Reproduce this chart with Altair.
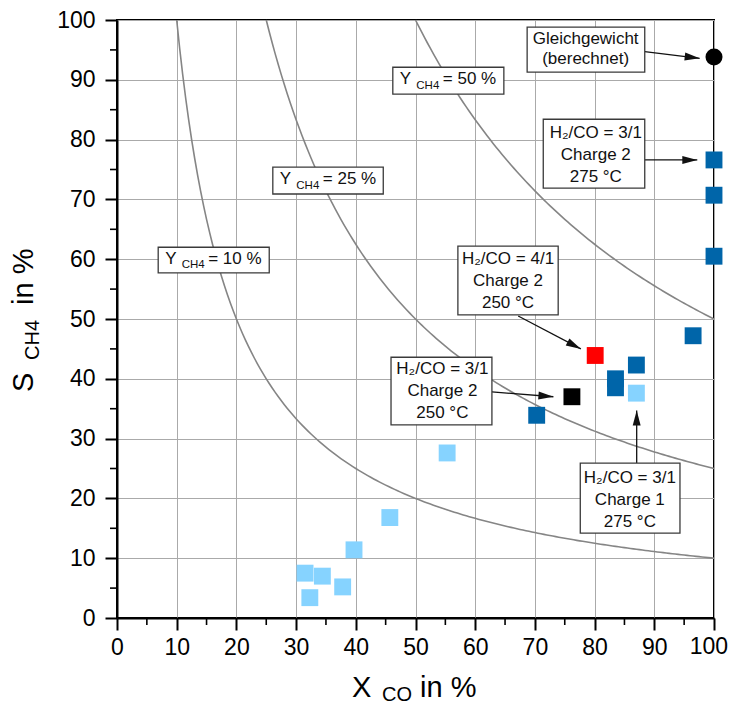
import math
import altair as alt
import pandas as pd

# ---------------- data ----------------
charge1_275_x = [31.5, 32.3, 34.4, 37.8, 39.7, 45.7, 55.3, 87.0]
charge1_275_y = [7.5, 3.4, 7.0, 5.2, 11.4, 16.8, 27.6, 37.6]
charge2_275_x = [70.3, 83.5, 83.5, 87.0, 96.5, 100.0, 100.0, 100.0]
charge2_275_y = [33.9, 40.0, 38.5, 42.3, 47.2, 76.6, 70.7, 60.5]
charge2_250_31_x = [76.2]
charge2_250_31_y = [37.0]
charge2_250_41_x = [80.1]
charge2_250_41_y = [43.9]
equilibrium_x = [100.0]
equilibrium_y = [93.8]

yield_levels = [10, 25, 50]          # Y_CH4 = X_CO * S_CH4 / 100
axis_values = list(range(0, 101, 10))
minor_values = list(range(5, 100, 10))
last_x_label = [100]

# annotation boxes (data units)
box_x1 = [68.7, 46.2, 71.4, 26.1, 6.9, 57.1, 45.9, 77.6]
box_x2 = [88.4, 64.8, 88.4, 44.6, 25.5, 73.9, 62.8, 94.3]
box_y1 = [91.3, 87.6, 71.9, 70.9, 57.7, 50.7, 32.3, 14.2]
box_y2 = [98.8, 92.1, 83.4, 75.4, 62.0, 62.2, 43.6, 25.9]

note2_text = ["Gleichgewicht\n(berechnet)"]
note2_x = [78.5]
note2_y = [95.1]
note3_text = ["H\u2082/CO = 3/1\nCharge 2\n275 \u00b0C",
              "H\u2082/CO = 4/1\nCharge 2\n250 \u00b0C",
              "H\u2082/CO = 3/1\nCharge 2\n250 \u00b0C",
              "H\u2082/CO = 3/1\nCharge 1\n275 \u00b0C"]
note3_x = [80.2, 65.5, 54.5, 85.9]
note3_y = [77.4, 56.3, 38.0, 19.8]

ylab_x = [46.2, 26.1, 6.9]
ylab_y = [89.9, 73.2, 59.9]
ylab_value = ["= 50 %", "= 25 %", "= 10 %"]

arrow_x1 = [88.4, 88.4, 67.2, 62.8, 87.05]
arrow_y1 = [94.7, 76.6, 50.5, 37.8, 25.9]
arrow_x2 = [97.6, 97.2, 77.7, 73.1, 87.05]
arrow_y2 = [93.6, 76.6, 45.0, 37.0, 34.7]

# ---------------- tables ----------------
W, H = 597, 598
FONT = "Liberation Sans"

pts = []
for xs_, ys_, col, shp, sz in [
    (charge1_275_x, charge1_275_y, "#86D3FF", "square", 285),
    (charge2_275_x, charge2_275_y, "#0065A9", "square", 285),
    (charge2_250_31_x, charge2_250_31_y, "#000000", "square", 285),
    (charge2_250_41_x, charge2_250_41_y, "#FF0000", "square", 285),
    (equilibrium_x, equilibrium_y, "#000000", "circle", 290),
]:
    for a, b in zip(xs_, ys_):
        pts.append({"X": a, "S": b, "col": col, "shape": shp, "size": sz})
pts_df = pd.DataFrame(pts)

curve_rows = []
for yl in yield_levels:
    n = int((100 - yl) / 0.5)
    for i in range(n + 1):
        xv = yl + 0.5 * i
        curve_rows.append({"Y": yl, "X": xv, "S": 100.0 * yl / xv})
curve_df = pd.DataFrame(curve_rows)

box_df = pd.DataFrame({"x1": box_x1, "x2": box_x2, "y1": box_y1, "y2": box_y2})
n2_df = pd.DataFrame({"t": note2_text, "x": note2_x, "y": note2_y})
n3_df = pd.DataFrame({"t": note3_text, "x": note3_x, "y": note3_y})
yl_df = pd.DataFrame({"x": ylab_x, "y": ylab_y, "v": ylab_value})

angles = []
for a, b, c, d in zip(arrow_x1, arrow_y1, arrow_x2, arrow_y2):
    dxp = (c - a) * W / 100.0
    dyp = -(d - b) * H / 100.0
    angles.append(math.degrees(math.atan2(dxp, -dyp)) % 360)
arr_df = pd.DataFrame({"x1": arrow_x1, "y1": arrow_y1, "x2": arrow_x2,
                       "y2": arrow_y2, "ang": angles})
minor_df = pd.DataFrame({"v": minor_values})
last_df = pd.DataFrame({"v": last_x_label})
one = pd.DataFrame({"a": [0]})

# ---------------- scales / axes ----------------
xsc = alt.Scale(domain=[0, 100], nice=False, zero=False)
ysc = alt.Scale(domain=[0, 100], nice=False, zero=False)
xax = alt.Axis(values=axis_values, title=None, grid=True, labelFlush=False,
               labelOverlap=False, labelPadding=6, tickSize=12,
               labelExpr="datum.value == 100 ? '' : datum.label")
yax = alt.Axis(values=axis_values, title=None, grid=True, labelOverlap=False,
               labelPadding=10, tickSize=12)


def X(f):
    return alt.X(f, scale=xsc, axis=xax)


def Y(f):
    return alt.Y(f, scale=ysc, axis=yax)


curves = alt.Chart(curve_df).mark_line(color="#858585", strokeWidth=1.6).encode(
    x=X("X:Q"), y=Y("S:Q"), detail="Y:N", order="X:Q")

boxes = alt.Chart(box_df).mark_rect(fill="white", stroke="#3a3a3a", strokeWidth=1.3).encode(
    x=X("x1:Q"), x2="x2:Q", y=Y("y1:Q"), y2="y2:Q")

notes2 = alt.Chart(n2_df).mark_text(font=FONT, fontSize=17, color="#111111",
                                    lineBreak="\n", lineHeight=20, baseline="middle",
                                    dy=-10).encode(
    x=X("x:Q"), y=Y("y:Q"), text="t:N")
notes3 = alt.Chart(n3_df).mark_text(font=FONT, fontSize=17, color="#111111",
                                    lineBreak="\n", lineHeight=22, baseline="middle",
                                    dy=-22).encode(
    x=X("x:Q"), y=Y("y:Q"), text="t:N")

ylab_Y = alt.Chart(yl_df).mark_text(font=FONT, fontSize=17, color="#111111", align="left",
                                    baseline="alphabetic", dx=7, dy=4, text="Y").encode(
    x=X("x:Q"), y=Y("y:Q"))
ylab_sub = alt.Chart(yl_df).mark_text(font=FONT, fontSize=11.5, color="#111111", align="left",
                                      baseline="alphabetic", dx=23.5, dy=8.5, text="CH4").encode(
    x=X("x:Q"), y=Y("y:Q"))
ylab_val = alt.Chart(yl_df).mark_text(font=FONT, fontSize=17, color="#111111", align="left",
                                      baseline="alphabetic", dx=50, dy=4).encode(
    x=X("x:Q"), y=Y("y:Q"), text="v:N")

arrow_lines = alt.Chart(arr_df).mark_rule(color="#111111", strokeWidth=1.3).encode(
    x=X("x1:Q"), y=Y("y1:Q"), x2="x2:Q", y2="y2:Q")
arrow_heads = alt.Chart(arr_df).mark_point(
    shape="M0,0L0.53,2L-0.53,2Z", filled=True, color="#111111", opacity=1,
    size=225, strokeWidth=0).encode(
    x=X("x2:Q"), y=Y("y2:Q"), angle=alt.Angle("ang:Q", scale=None))

points = alt.Chart(pts_df).mark_point(filled=True, opacity=1, strokeWidth=0).encode(
    x=X("X:Q"), y=Y("S:Q"),
    color=alt.Color("col:N", scale=None),
    shape=alt.Shape("shape:N", scale=None),
    size=alt.Size("size:Q", scale=None))

minor_y = alt.Chart(minor_df).mark_rule(color="black", strokeWidth=1.6).encode(
    y=Y("v:Q"), x=alt.value(-7), x2=alt.value(0))
minor_x = alt.Chart(minor_df).mark_rule(color="black", strokeWidth=1.6).encode(
    x=X("v:Q"), y=alt.value(H), y2=alt.value(H + 7))

# last x tick label, pulled in so that it stays inside the page
last_lab = alt.Chart(last_df).mark_text(font=FONT, fontSize=23, color="black",
                                        align="right", baseline="top", dx=14).encode(
    x=X("v:Q"), y=alt.value(H + 18), text="v:Q")

TF = 29
xt1 = alt.Chart(one).mark_text(font=FONT, fontSize=TF, align="left", baseline="alphabetic",
                               color="black", text="X").encode(x=alt.value(235), y=alt.value(677))
xt2 = alt.Chart(one).mark_text(font=FONT, fontSize=20, align="left", baseline="alphabetic",
                               color="black", text="CO").encode(x=alt.value(265), y=alt.value(681))
xt3 = alt.Chart(one).mark_text(font=FONT, fontSize=TF, align="left", baseline="alphabetic",
                               color="black", text="in %").encode(x=alt.value(303), y=alt.value(677))

yt1 = alt.Chart(one).mark_text(font=FONT, fontSize=TF, align="left", baseline="alphabetic",
                               angle=270, color="black", text="S").encode(x=alt.value(-84), y=alt.value(372))
yt2 = alt.Chart(one).mark_text(font=FONT, fontSize=20, align="left", baseline="alphabetic",
                               angle=270, color="black", text="CH4").encode(x=alt.value(-78), y=alt.value(340))
yt3 = alt.Chart(one).mark_text(font=FONT, fontSize=TF, align="left", baseline="alphabetic",
                               angle=270, color="black", text="in %").encode(x=alt.value(-84), y=alt.value(285))

chart = alt.layer(
    curves, minor_y, minor_x, arrow_lines, boxes, notes2, notes3,
    ylab_Y, ylab_sub, ylab_val, arrow_heads, points, last_lab,
    xt1, xt2, xt3, yt1, yt2, yt3,
).properties(
    width=W, height=H,
    padding={"left": 109, "top": 12, "right": 15, "bottom": 87},
    autosize=alt.AutoSizeParams(type="none"),
).configure_view(
    stroke="black", strokeWidth=2
).configure_axis(
    domainColor="black", domainWidth=2, tickColor="black", tickWidth=2,
    labelFont=FONT, labelFontSize=23, labelColor="black",
    gridColor="#aaaaaa", gridWidth=1,
)

chart.save("out.html", embed_options={"renderer": "svg", "actions": False})
